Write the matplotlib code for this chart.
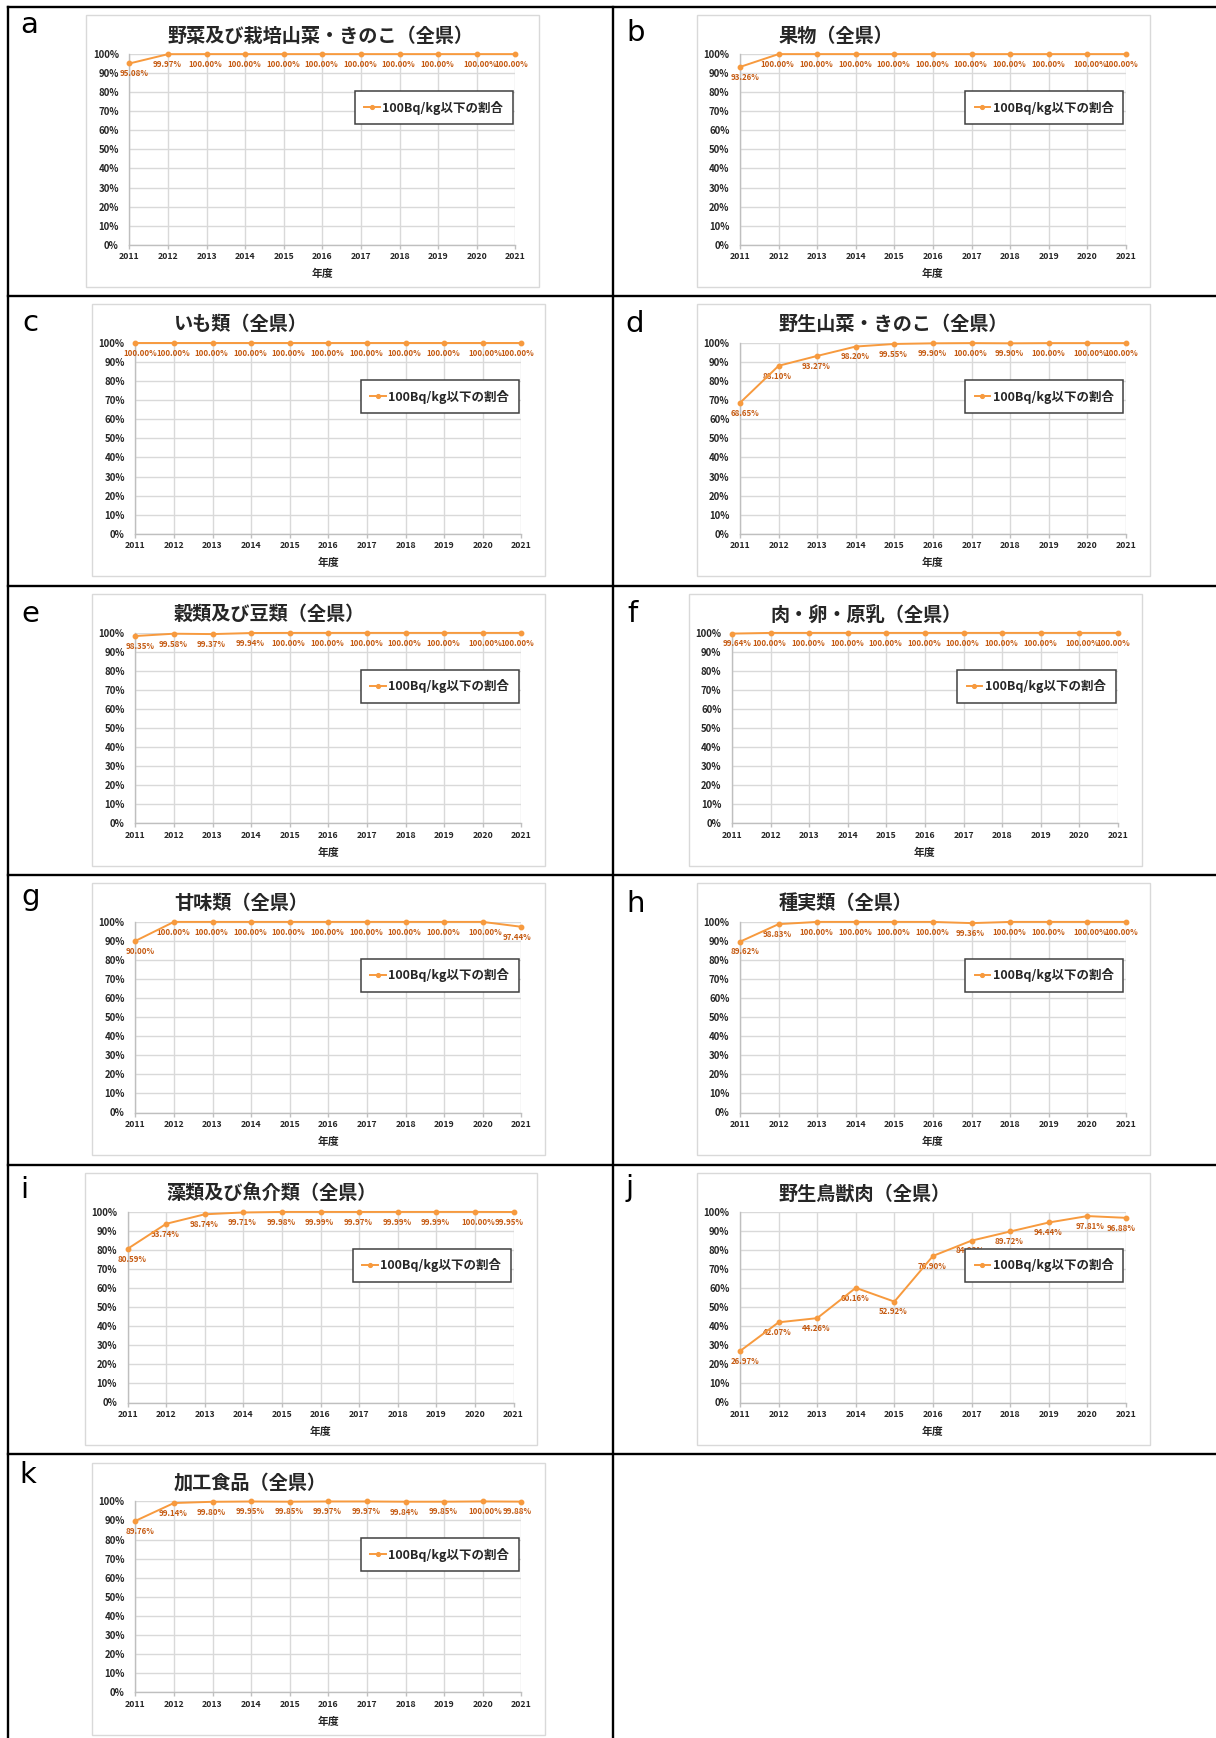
import matplotlib
matplotlib.use("Agg")
import matplotlib.pyplot as plt
from matplotlib.patches import Rectangle
from matplotlib.lines import Line2D
import matplotlib.ticker as mticker

plt.rcParams['font.family'] = ['Noto Sans CJK JP', 'DejaVu Sans']

# ---- data -------------------------------------------------------------
years = [2011, 2012, 2013, 2014, 2015, 2016, 2017, 2018, 2019, 2020, 2021]
legend_label = "100Bq/kg以下の割合"
x_label = "年度"

panel_letters = ["a", "b", "c", "d", "e", "f", "g", "h", "i", "j", "k"]
titles = [
    "野菜及び栽培山菜・きのこ（全県）",
    "果物（全県）",
    "いも類（全県）",
    "野生山菜・きのこ（全県）",
    "穀類及び豆類（全県）",
    "肉・卵・原乳（全県）",
    "甘味類（全県）",
    "種実類（全県）",
    "藻類及び魚介類（全県）",
    "野生鳥獣肉（全県）",
    "加工食品（全県）",
]

vegetables = [95.08, 99.97, 100.00, 100.00, 100.00, 100.00, 100.00, 100.00, 100.00, 100.00, 100.00]
fruits = [93.26, 100.00, 100.00, 100.00, 100.00, 100.00, 100.00, 100.00, 100.00, 100.00, 100.00]
potatoes = [100.00, 100.00, 100.00, 100.00, 100.00, 100.00, 100.00, 100.00, 100.00, 100.00, 100.00]
wild_plants = [68.65, 88.10, 93.27, 98.20, 99.55, 99.90, 100.00, 99.90, 100.00, 100.00, 100.00]
grains = [98.35, 99.58, 99.37, 99.94, 100.00, 100.00, 100.00, 100.00, 100.00, 100.00, 100.00]
meat_egg_milk = [99.64, 100.00, 100.00, 100.00, 100.00, 100.00, 100.00, 100.00, 100.00, 100.00, 100.00]
sweeteners = [90.00, 100.00, 100.00, 100.00, 100.00, 100.00, 100.00, 100.00, 100.00, 100.00, 97.44]
nuts_seeds = [89.62, 98.83, 100.00, 100.00, 100.00, 100.00, 99.36, 100.00, 100.00, 100.00, 100.00]
seaweed_fish = [80.59, 93.74, 98.74, 99.71, 99.98, 99.99, 99.97, 99.99, 99.99, 100.00, 99.95]
wild_game = [26.97, 42.07, 44.26, 60.16, 52.92, 76.90, 84.93, 89.72, 94.44, 97.81, 96.88]
processed = [89.76, 99.14, 99.80, 99.95, 99.85, 99.97, 99.97, 99.84, 99.85, 100.00, 99.88]

series = [vegetables, fruits, potatoes, wild_plants, grains, meat_egg_milk,
          sweeteners, nuts_seeds, seaweed_fish, wild_game, processed]

# ---- layout (pixels) ----------------------------------------------------
W, H, DPI = 1216, 1738, 100
row_tops = [6.7, 295.7, 585.5, 874.5, 1164.5, 1454.0]
plot_lefts = [129.4, 740.0, 135.3, 740.0, 135.3, 732.0, 135.3, 740.0, 127.5, 740.0, 135.3]
letter_pos = [(29, 33.3), (636, 40.7), (30.6, 330.7), (635, 331.7), (30.6, 621.7),
              (633, 622.3), (30.6, 905.0), (636, 911.7), (24.3, 1198.3), (630, 1196.5),
              (28, 1483.3)]
PLOT_W = 386.0
PLOT_TOP, PLOT_BOT = 47.4, 238.0

LINE_C = "#F79A3E"
LABEL_C = "#C55A11"
TEXT_C = "#262626"
GRID_C = "#D9D9D9"
AXIS_C = "#BFBFBF"

fig = plt.figure(figsize=(W / DPI, H / DPI), dpi=DPI)
fig.patch.set_facecolor("white")


def fx(x):
    return x / W


def fy(y):
    return 1 - y / H


# table borders
border_kw = dict(color="black", lw=1.7, transform=fig.transFigure, solid_capstyle="projecting")
for t in row_tops:
    fig.add_artist(Line2D([fx(7.8), fx(W)], [fy(t), fy(t)], **border_kw))
for xv in (7.8, 612.5):
    fig.add_artist(Line2D([fx(xv), fx(xv)], [fy(row_tops[0]), fy(H)], **border_kw))

for i, vals in enumerate(series):
    row, col = divmod(i, 2)
    top = row_tops[row]
    left = plot_lefts[i]
    right = left + PLOT_W
    ptop, pbot = top + PLOT_TOP, top + PLOT_BOT

    # light chart frame
    fig.add_artist(Rectangle((fx(left - 43), fy(top + 280.7)), (PLOT_W + 66.5) / W,
                             (280.7 - 8.6) / H, transform=fig.transFigure,
                             facecolor="none", edgecolor=GRID_C, lw=1.0))

    ax = fig.add_axes([fx(left), fy(pbot), PLOT_W / W, (pbot - ptop) / H])
    ax.set_xlim(years[0], years[-1])
    ax.set_ylim(0, 1)
    ax.set_xticks(years)
    ax.set_yticks([k / 10 for k in range(11)])
    ax.yaxis.set_major_formatter(mticker.PercentFormatter(1.0, decimals=0))
    ax.grid(True, color=GRID_C, lw=1.0)
    ax.set_axisbelow(True)
    for s in ("top", "right"):
        ax.spines[s].set_visible(False)
    for s in ("left", "bottom"):
        ax.spines[s].set_color(AXIS_C)
        ax.spines[s].set_linewidth(1.0)
    ax.tick_params(axis="x", length=3, width=1.0, color=AXIS_C, pad=2.5,
                   labelsize=6.3, labelcolor=TEXT_C)
    ax.tick_params(axis="y", length=0, pad=7.6, labelsize=6.9, labelcolor=TEXT_C)
    for lab in ax.get_xticklabels() + ax.get_yticklabels():
        lab.set_fontweight("bold")

    frac = [v / 100 for v in vals]
    ax.plot(years, frac, color=LINE_C, lw=1.4, marker="o", ms=3.2,
            clip_on=False, zorder=4, label=legend_label)

    n = len(years)
    for k, (yr, v) in enumerate(zip(years, vals)):
        if k == 0:
            dx = 5.0
        elif k == n - 1:
            dx = -4.5
        elif k == n - 2:
            dx = 3.0
        else:
            dx = -1.0
        ax.annotate(f"{v:.2f}%", (yr, v / 100), xytext=(dx * 0.72, -10.3 * 0.72),
                    textcoords="offset points", ha="center", va="center",
                    fontsize=5.7, fontweight="bold", color=LABEL_C,
                    annotation_clip=False, zorder=3)

    # legend box
    lx0, lx1 = right - 160.7, right - 2.5
    ly0, ly1 = top + 82.0, top + 119.7
    bb = ((lx0 - left) / PLOT_W, (pbot - ly1) / (pbot - ptop),
          (lx1 - lx0) / PLOT_W, (ly1 - ly0) / (pbot - ptop))
    leg = ax.legend(loc="center", bbox_to_anchor=bb, mode="expand", frameon=True,
                    fancybox=False, framealpha=1.0, edgecolor="#404040",
                    borderpad=0.75, handlelength=1.25, handletextpad=0.2,
                    markerscale=0.85, prop=dict(size=9, weight="bold"),
                    borderaxespad=0)
    leg.get_frame().set_linewidth(1.1)
    for txt in leg.get_texts():
        txt.set_color(TEXT_C)

    # chart title, axis caption, panel letter
    fig.text(fx(left + 38.5), fy(top + 29.3), titles[i], ha="left", va="center",
             fontsize=13.8, fontweight="bold", color=TEXT_C)
    fig.text(fx(left + PLOT_W / 2), fy(top + 267.5), x_label, ha="center", va="center",
             fontsize=7.8, fontweight="bold", color=TEXT_C)
    lxp, lyp = letter_pos[i]
    fig.text(fx(lxp), fy(lyp), panel_letters[i], ha="center", va="baseline",
             fontsize=21, family="DejaVu Sans", color="black")

fig.savefig("out.png", dpi=DPI, facecolor="white")
